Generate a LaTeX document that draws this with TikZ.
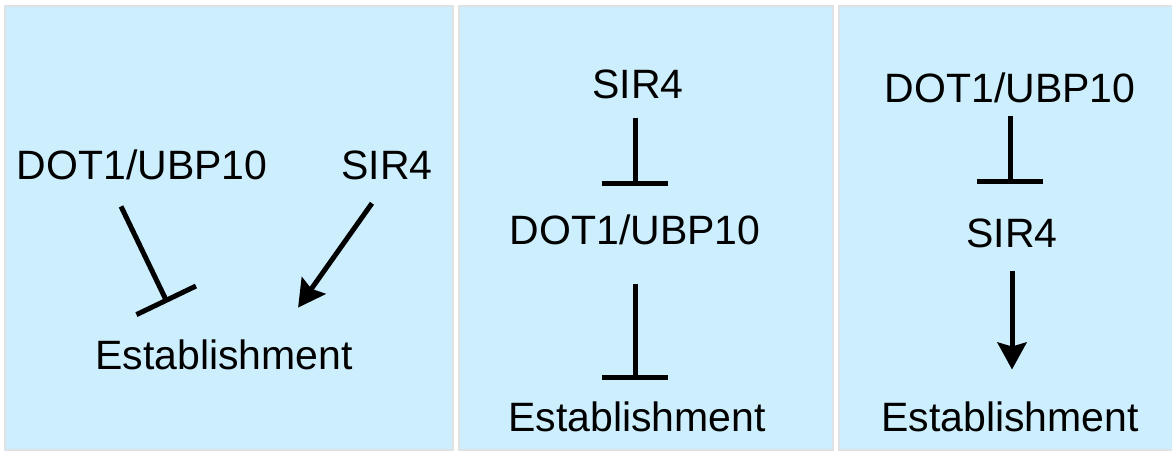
\documentclass[tikz,border=0pt]{standalone}
\usepackage{fontspec}
\setmainfont{Liberation Sans}
\usetikzlibrary{arrows.meta}
\definecolor{panelblue}{RGB}{205,238,253}
\definecolor{paneledge}{RGB}{222,226,228}
\begin{document}
\begin{tikzpicture}[x=0.5pt,y=-0.5pt,
  panel/.style={fill=panelblue, draw=paneledge, line width=0.6pt},
  label/.style={inner sep=0pt, text height=14.7pt, text depth=0pt,
    font=\fontsize{20.5pt}{24pt}\selectfont},
  link/.style={line width=2.5pt},
  inhibits/.style={link, -{Bar[width=33pt]}},
  activates/.style={link, -{Stealth[length=13.5pt,width=14.5pt,inset=2pt]}}]
\useasboundingbox (0,0) rectangle (1172,455);
\fill[white] (0,0) rectangle (1172,455);

% three panels
\draw[panel] (5,6) rectangle (453,450);
\draw[panel] (459,6) rectangle (833,450);
\draw[panel] (839,6) rectangle (1173,450);

% panel 1: both factors act on establishment
\node[label] (dot1) at (142,165) {DOT1/UBP10};
\node[label] (sir1) at (387,165) {SIR4};
\node[label] (est1) at (224,355) {Establishment};
\draw[inhibits, shorten <=14.6pt, shorten >=20.7pt]
  ([xshift=-16.8pt]dot1.south) -- ([xshift=-19.4pt]est1.north);
\draw[activates, shorten <=14.2pt, shorten >=19.8pt]
  ([xshift=0.7pt]sir1.south) -- ([xshift=25.6pt]est1.north);

% panel 2: SIR4 -| DOT1/UBP10 -| establishment
\node[label] (sir2) at (638,84) {SIR4};
\node[label] (dot2) at (635,230) {DOT1/UBP10};
\node[label] (est2) at (637,417) {Establishment};
\draw[inhibits, shorten <=9.2pt, shorten >=14.7pt]
  (sir2.south -| dot2.center) -- (dot2.north);
\draw[inhibits, shorten <=19.2pt, shorten >=11.2pt]
  (dot2.south) -- (est2.north -| dot2.center);

% panel 3: DOT1/UBP10 -| SIR4 -> establishment
\node[label] (dot3) at (1010,88) {DOT1/UBP10};
\node[label] (sir3) at (1012,233) {SIR4};
\node[label] (est3) at (1010,417) {Establishment};
\draw[inhibits, shorten <=6.2pt, shorten >=17.2pt]
  (dot3.south) -- (sir3.north -| dot3.center);
\draw[activates, shorten <=11.2pt, shorten >=16.2pt]
  (sir3.south) -- (est3.north -| sir3.center);
\end{tikzpicture}
\end{document}
